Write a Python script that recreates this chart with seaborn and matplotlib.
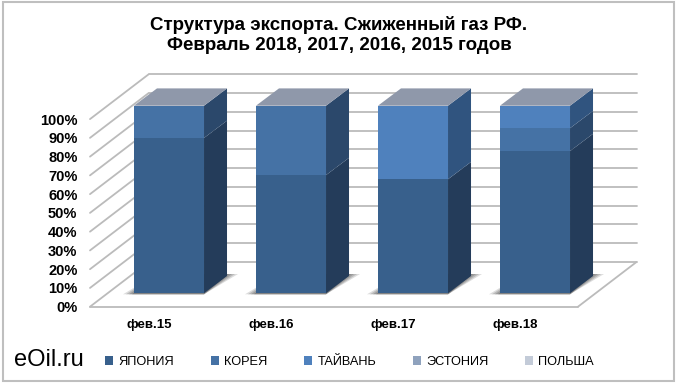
import numpy as np
import matplotlib
matplotlib.use("Agg")
import matplotlib.pyplot as plt
from matplotlib.patches import Polygon, Rectangle
from matplotlib.transforms import Affine2D, IdentityTransform
import seaborn as sns

months = ["фев.15", "фев.16", "фев.17", "фев.18"]
series_names = ["ЯПОНИЯ", "КОРЕЯ", "ТАЙВАНЬ", "ЭСТОНИЯ", "ПОЛЬША"]
japan = [82.8, 63.0, 60.8, 75.8]
korea = [17.2, 37.0, 0.0, 12.2]
taiwan = [0.0, 0.0, 39.2, 12.0]
estonia = [0.0, 0.0, 0.0, 0.0]
poland = [0.0, 0.0, 0.0, 0.0]
series_values = [japan, korea, taiwan, estonia, poland]
y_ticks = [0, 10, 20, 30, 40, 50, 60, 70, 80, 90, 100]

front_colors = ["#38608C", "#4572A5", "#4F81BD", "#8FA2BD", "#C3CBD8"]
side_colors = ["#243C5A", "#2B486B", "#30547F", "#5C6B80", "#838A95"]
top_color = "#8F98AA"
grid_color = "#BBBBBB"

sns.set_theme(style="white")
plt.rcParams["font.family"] = ["Liberation Sans", "DejaVu Sans"]

W, H = 680, 385
fig = plt.figure(figsize=(W / 100, H / 100), dpi=100)
# axes = plane of the bar fronts, walls are shifted from it in pixels
ax = fig.add_axes([108 / W, 1 - 293.3 / H, 488 / W, 187.6 / H])
fig.add_artist(Rectangle((2.5 / W, 1 - 381 / H), 671.5 / W, 379.5 / H, fill=False,
                         edgecolor="#BFBFBF", linewidth=1.5, transform=fig.transFigure))

bottom = np.zeros(len(months))
for name, vals, col in zip(series_names, series_values, front_colors):
    sns.barplot(x=months, y=vals, bottom=bottom, color=col, label=name, width=0.574,
                saturation=1, ax=ax, zorder=3, linewidth=0)
    bottom = bottom + np.array(vals)
if ax.get_legend() is not None:
    ax.get_legend().remove()

ax.set_xlim(-0.5, 3.5)
ax.set_ylim(0, 100)
ax.set_yticks(y_ticks)
ax.set_yticklabels([f"{v}%" for v in y_ticks], fontsize=10.5, fontweight="bold", color="black")
ax.tick_params(axis="both", length=0)
ax.tick_params(axis="y", pad=22)
ax.tick_params(axis="x", pad=18.5)
for lab in ax.get_xticklabels():
    lab.set_fontsize(9.5)
    lab.set_fontweight("bold")
    lab.set_color("black")
    lab.set_transform(lab.get_transform() + Affine2D().translate(-20, 0))
for lab in ax.get_yticklabels():
    lab.set_transform(lab.get_transform() + Affine2D().translate(0, -13.4))
ax.set_xlabel("")
ax.patch.set_visible(False)
sns.despine(ax=ax, left=True, bottom=True)

px = IdentityTransform()
back = (40.5, 31.3)
front = (-18, -13.4)
depth = (23, 17.3)


def to_px(x, y):
    return ax.transData.transform((x, y))


def wall_line(p0, p1):
    ax.add_line(plt.Line2D([p0[0], p1[0]], [p0[1], p1[1]], color=grid_color, lw=1.3,
                           transform=px, clip_on=False, zorder=1))


# back wall and left wall
for v in y_ticks:
    x0, y0 = to_px(-0.5, v)
    x1, y1 = to_px(3.5, v)
    wall_line((x0 + back[0], y0 + back[1]), (x1 + back[0], y1 + back[1]))
    wall_line((x0 + back[0], y0 + back[1]), (x0 + front[0], y0 + front[1]))

# floor
x0, y0 = to_px(-0.5, 0)
x1, y1 = to_px(3.5, 0)
wall_line((x0 + front[0], y0 + front[1]), (x1 + front[0], y1 + front[1]))
wall_line((x1 + front[0], y1 + front[1]), (x1 + back[0], y1 + back[1]))

# shadows under the bars
n_bars = len(months)
for i in range(n_bars):
    patch = ax.patches[i]
    bx0, by0 = to_px(patch.get_x(), 0)
    bx1, _ = to_px(patch.get_x() + patch.get_width(), 0)
    for grow, alpha in zip([11, 8, 5, 2], [0.2, 0.25, 0.3, 0.35]):
        ax.add_patch(Polygon([(bx0 - grow, by0 - 1), (bx1, by0 - 1),
                              (bx1 + depth[0] + grow, by0 + depth[1] + 2),
                              (bx0 + depth[0], by0 + depth[1] + 2)],
                             closed=True, facecolor="#555555", edgecolor="none", alpha=alpha,
                             transform=px, clip_on=False, zorder=2))

# side faces and tops, taken from the bars themselves
bar_patches = ax.patches[:n_bars * len(series_names)]
for s, side in enumerate(side_colors):
    for i in range(n_bars):
        patch = bar_patches[s * n_bars + i]
        if patch.get_height() <= 0:
            continue
        xr, yb = to_px(patch.get_x() + patch.get_width(), patch.get_y())
        _, yt = to_px(patch.get_x(), patch.get_y() + patch.get_height())
        ax.add_patch(Polygon([(xr, yb), (xr + depth[0], yb + depth[1]),
                              (xr + depth[0], yt + depth[1]), (xr, yt)],
                             closed=True, facecolor=side, edgecolor="none",
                             transform=px, clip_on=False, zorder=3))

for i in range(n_bars):
    patch = bar_patches[i]
    xl, yt = to_px(patch.get_x(), bottom[i])
    xr, _ = to_px(patch.get_x() + patch.get_width(), bottom[i])
    ax.add_patch(Polygon([(xl, yt), (xr, yt), (xr + depth[0], yt + depth[1]),
                          (xl + depth[0], yt + depth[1])],
                         closed=True, facecolor=top_color, edgecolor="none",
                         transform=px, clip_on=False, zorder=3))

fig.text(339 / W, 1 - 35 / H, "Структура экспорта. Сжиженный газ РФ.\nФевраль 2018, 2017, 2016, 2015 годов",
         ha="center", va="center", fontsize=13.5, fontweight="bold", color="black", linespacing=1.25)
fig.text(14 / W, 1 - 360 / H, "eOil.ru", ha="left", va="center", fontsize=17, color="black")

handles = [Rectangle((0, 0), 1, 1, facecolor=c, edgecolor="none") for c in front_colors]
fig.legend(handles, series_names, loc="center left", bbox_to_anchor=(105 / W, 1 - 362 / H), ncol=5,
           frameon=False, fontsize=9.2, labelcolor="black", handlelength=0.63, handleheight=0.63,
           handletextpad=0.43, columnspacing=2.85, borderpad=0, borderaxespad=0)

fig.savefig("out.png", dpi=100)
